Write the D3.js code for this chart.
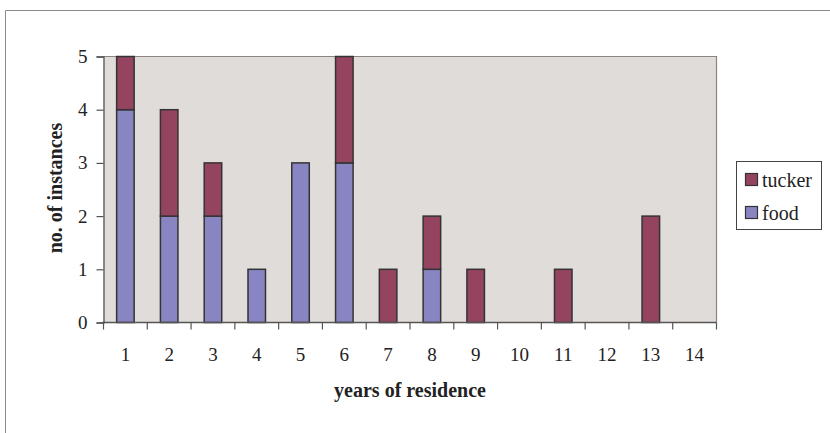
<!DOCTYPE html>
<html>
<head>
<meta charset="utf-8">
<script src="https://cdn.jsdelivr.net/npm/d3@7"></script>
<style>
  html, body { margin: 0; padding: 0; background: #ffffff; }
  svg { display: block; }
  svg text { font-family: "Liberation Serif", "DejaVu Serif", serif; fill: #222; }
</style>
</head>
<body>
<svg id="chart" width="830" height="433"></svg>
<script>
// Years of residence (categories)
const years = ["1","2","3","4","5","6","7","8","9","10","11","12","13","14"];
// Stacked series: food at the bottom, tucker on top
const food   = [4, 2, 2, 1, 3, 3, 0, 1, 0, 0, 0, 0, 0, 0];
const tucker = [1, 2, 1, 0, 0, 2, 1, 1, 1, 0, 1, 0, 2, 0];
const yTicks = [0, 1, 2, 3, 4, 5];
const seriesNames = ["food", "tucker"];
const seriesColors = { food: "#8985c3", tucker: "#954460" };
const FONT = "'Liberation Serif', 'DejaVu Serif', serif";

const svg = d3.select("#chart");

// outer frame
svg.append("path")
  .attr("d", "M5.5,433 V10.5 H830")
  .attr("fill", "none")
  .attr("stroke", "#8a8a8a")
  .attr("stroke-width", 1);

const plot = { left: 103.5, right: 716.5, top: 56.5, bottom: 322.5 };

const x = d3.scaleBand().domain(years).range([plot.left, plot.right]).paddingInner(0.6).paddingOuter(0.3);
const xb = d3.scaleBand().domain(years).range([plot.left, plot.right]);
const y = d3.scaleLinear().domain([0, 5]).range([plot.bottom, plot.top]);

// plot background
svg.append("rect")
  .attr("x", plot.left).attr("y", plot.top)
  .attr("width", plot.right - plot.left).attr("height", plot.bottom - plot.top)
  .attr("fill", "#e0dcd9");

// top and right border of plot area
svg.append("path")
  .attr("d", `M${plot.left},${plot.top} H${plot.right} V${plot.bottom}`)
  .attr("fill", "none").attr("stroke", "#8f8485").attr("stroke-width", 1.2);

// stacked bars
const rows = years.map((yr, i) => ({ year: yr, food: food[i], tucker: tucker[i] }));
const stack = d3.stack().keys(seriesNames)(rows);

svg.append("g").selectAll("g")
  .data(stack).join("g")
  .attr("fill", d => seriesColors[d.key])
  .selectAll("rect")
  .data(d => d.filter(s => s[1] - s[0] > 0))
  .join("rect")
  .attr("x", d => x(d.data.year))
  .attr("width", x.bandwidth())
  .attr("y", d => y(d[1]))
  .attr("height", d => y(d[0]) - y(d[1]))
  .attr("stroke", "#333")
  .attr("stroke-width", 1.5);

// y axis
const yAxis = svg.append("g")
  .attr("transform", `translate(${plot.left},0)`)
  .call(d3.axisLeft(y).tickValues(yTicks).tickFormat(d3.format("d")).tickSize(7).tickPadding(9));
yAxis.attr("font-family", FONT);
yAxis.select(".domain").attr("stroke", "#555").attr("stroke-width", 1.3);
yAxis.selectAll(".tick line").attr("stroke", "#555").attr("stroke-width", 1.2);
yAxis.selectAll("text").attr("font-size", 19).attr("font-family", FONT).attr("fill", "#222");

// x axis: ticks on band boundaries, labels at band centres
const xAxisG = svg.append("g").attr("transform", `translate(0,${plot.bottom})`);
xAxisG.append("line")
  .attr("x1", plot.left - 1).attr("x2", plot.right)
  .attr("stroke", "#555").attr("stroke-width", 1.3);
const boundaries = years.map(d => xb(d)).concat([plot.right]);
xAxisG.selectAll("line.tk").data(boundaries).join("line")
  .attr("class", "tk")
  .attr("x1", d => d).attr("x2", d => d)
  .attr("y1", 0).attr("y2", 7)
  .attr("stroke", "#555").attr("stroke-width", 1.2);
xAxisG.selectAll("text").data(years).join("text")
  .attr("x", d => xb(d) + xb.bandwidth() / 2)
  .attr("y", 38)
  .attr("text-anchor", "middle")
  .attr("font-family", FONT)
  .attr("font-size", 19)
  .text(d => d);

// axis titles
svg.append("text")
  .attr("x", 410).attr("y", 397)
  .attr("text-anchor", "middle")
  .attr("font-family", FONT)
  .attr("font-size", 20).attr("font-weight", "bold")
  .text("years of residence");

svg.append("text")
  .attr("transform", "translate(62,188) rotate(-90)")
  .attr("text-anchor", "middle")
  .attr("font-family", FONT)
  .attr("font-size", 20).attr("font-weight", "bold")
  .text("no. of instances");

// legend
const legend = svg.append("g");
legend.append("rect")
  .attr("x", 736.5).attr("y", 161.5).attr("width", 85).attr("height", 68)
  .attr("fill", "#fff").attr("stroke", "#444").attr("stroke-width", 1);
const legendItems = ["tucker", "food"];
legendItems.forEach((name, i) => {
  const top = 173 + i * 33;
  legend.append("rect")
    .attr("x", 745.5).attr("y", top + 0.5).attr("width", 12).attr("height", 12)
    .attr("fill", seriesColors[name]).attr("stroke", "#333").attr("stroke-width", 1.2);
  legend.append("text")
    .attr("x", 762).attr("y", top + 13.5)
    .attr("font-family", FONT)
    .attr("font-size", 20)
    .text(name);
});
</script>
</body>
</html>
